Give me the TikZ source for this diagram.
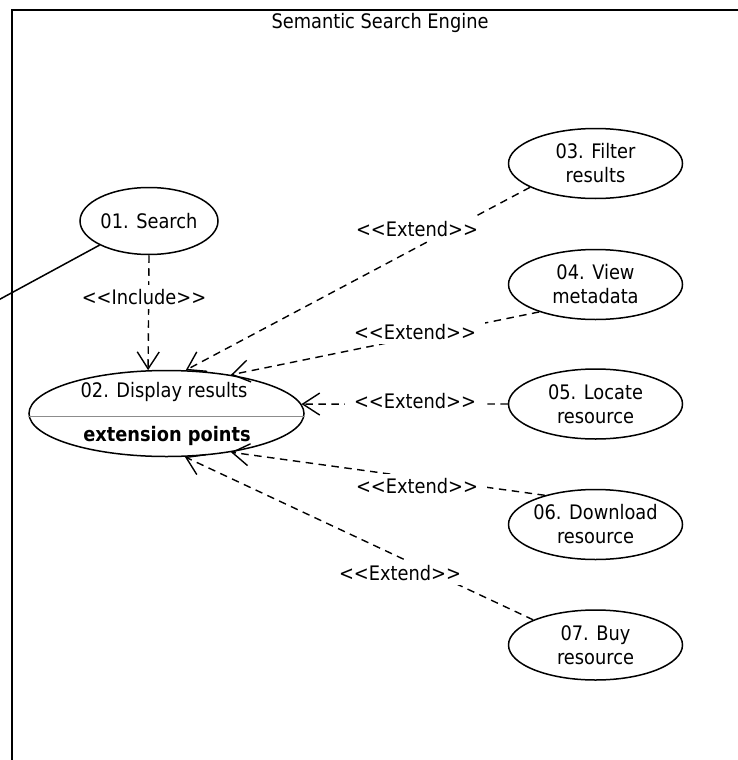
\documentclass[tikz,border=0pt]{standalone}
\usepackage{fontspec}
\setmainfont{DejaVu Sans}[FakeStretch=0.89, Ligatures=TeXOff]
\usetikzlibrary{shapes.geometric,arrows.meta}

\tikzset{
  txt/.style={font=\fontsize{20pt}{24pt}\selectfont, align=center, inner sep=3pt},
  usecase/.style={ellipse, draw, line width=1.5pt, txt, inner sep=-12pt,
    minimum width=174pt, minimum height=70pt},
  rel/.style={line width=1.4pt, dash pattern=on 7.5pt off 5.5pt,
    -{Straight Barb[length=17pt,width=22pt,line width=1.4pt]}},
  stereo/.style={txt, fill=white, inner xsep=9pt, inner ysep=4pt},
  frameline/.style={line width=2pt}
}

\begin{document}
\begin{tikzpicture}[x=1pt,y=-1pt]
  \useasboundingbox (0,0) rectangle (738,760);

  % system boundary
  \coordinate (fc) at (11.5,10);
  \coordinate (fr) at (745,10);
  \coordinate (fb) at (11.5,770);
  \draw[frameline] (fb) -- (fc) -- (fr);
  \node[txt] (title) at (380,23) {Semantic Search Engine};

  % use cases
  \node[usecase, minimum width=138pt, minimum height=67pt] (uc01) at (149,221) {01. Search};
  \node[ellipse, draw, line width=1.5pt, minimum width=275pt, minimum height=86pt]
    (uc02) at (166.5,413.5) {};
  \draw[line width=0.8pt, black!45] (uc02.181.7) -- (uc02.-1.7);
  \node[txt] (uc02a) at (164,392) {02. Display results};
  \node[txt, font=\fontsize{20pt}{24pt}\selectfont\bfseries] (uc02b) at (167,436) {extension points};

  \node[usecase] (uc03) at (595.5,163.5) {03. Filter\\results};
  \node[usecase] (uc04) at (595.5,284.5) {04. View\\metadata};
  \node[usecase] (uc05) at (595.5,404) {05. Locate\\resource};
  \node[usecase] (uc06) at (595.5,524.5) {06. Download\\resource};
  \node[usecase] (uc07) at (595.5,645) {07. Buy\\resource};

  % actor association leaving the boundary
  \coordinate (actor) at (-20,310);
  \draw[line width=1.5pt] (uc01.206) -- (actor);

  % include
  \draw[rel] (uc01.south) -- (uc02.113);
  \node[stereo, inner xsep=4pt] (inc) at (144,297) {<<Include>>};

  % extends
  \draw[rel] (uc03.200) -- (uc02.66.6);
  \node[stereo] (ext3) at (417,229) {<<Extend>>};
  \draw[rel] (uc04.206) -- (uc02.31.8);
  \node[stereo] (ext4) at (415,332) {<<Extend>>};
  \draw[rel] (uc05.180) -- (uc02.4.6);
  \node[stereo] (ext5) at (415,401) {<<Extend>>};
  \draw[rel] (uc06.150.4) -- (uc02.-31.6);
  \node[stereo] (ext6) at (417,486) {<<Extend>>};
  \draw[rel] (uc07.158.5) -- (uc02.-67.7);
  \node[stereo] (ext7) at (400,573) {<<Extend>>};
\end{tikzpicture}
\end{document}
